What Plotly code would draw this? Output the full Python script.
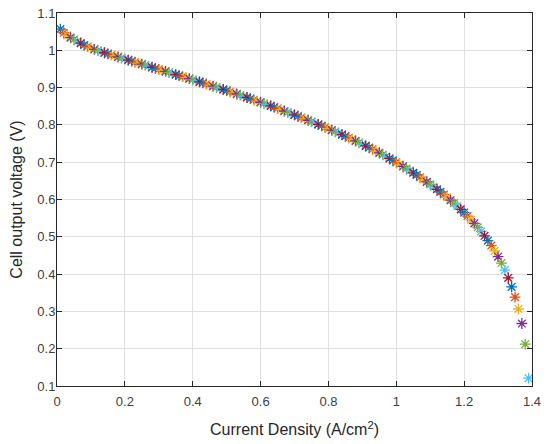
import plotly.graph_objects as go

# Current density (A/cm^2), one point per 0.01 step
current_density = [
    0.01, 0.02, 0.03, 0.04, 0.05, 0.06, 0.07, 0.08, 0.09, 0.10,
    0.11, 0.12, 0.13, 0.14, 0.15, 0.16, 0.17, 0.18, 0.19, 0.20,
    0.21, 0.22, 0.23, 0.24, 0.25, 0.26, 0.27, 0.28, 0.29, 0.30,
    0.31, 0.32, 0.33, 0.34, 0.35, 0.36, 0.37, 0.38, 0.39, 0.40,
    0.41, 0.42, 0.43, 0.44, 0.45, 0.46, 0.47, 0.48, 0.49, 0.50,
    0.51, 0.52, 0.53, 0.54, 0.55, 0.56, 0.57, 0.58, 0.59, 0.60,
    0.61, 0.62, 0.63, 0.64, 0.65, 0.66, 0.67, 0.68, 0.69, 0.70,
    0.71, 0.72, 0.73, 0.74, 0.75, 0.76, 0.77, 0.78, 0.79, 0.80,
    0.81, 0.82, 0.83, 0.84, 0.85, 0.86, 0.87, 0.88, 0.89, 0.90,
    0.91, 0.92, 0.93, 0.94, 0.95, 0.96, 0.97, 0.98, 0.99, 1.00,
    1.01, 1.02, 1.03, 1.04, 1.05, 1.06, 1.07, 1.08, 1.09, 1.10,
    1.11, 1.12, 1.13, 1.14, 1.15, 1.16, 1.17, 1.18, 1.19, 1.20,
    1.21, 1.22, 1.23, 1.24, 1.25, 1.26, 1.27, 1.28, 1.29, 1.30,
    1.31, 1.32, 1.33, 1.34, 1.35, 1.36, 1.37, 1.38, 1.39,
]

# Cell output voltage (V)
cell_voltage = [
    1.057, 1.047, 1.040, 1.034, 1.029, 1.024, 1.019, 1.014, 1.010, 1.006,
    1.0027, 0.9995, 0.9964, 0.9934, 0.9905, 0.9876, 0.9848, 0.9820, 0.9793, 0.9766,
    0.9738, 0.9711, 0.9683, 0.9656, 0.9628, 0.9600, 0.9573, 0.9545, 0.9517, 0.9490,
    0.9462, 0.9434, 0.9406, 0.9378, 0.9350, 0.9322, 0.9294, 0.9266, 0.9238, 0.9210,
    0.9182, 0.9154, 0.9125, 0.9096, 0.9067, 0.9038, 0.9009, 0.8979, 0.8949, 0.8919,
    0.8889, 0.8859, 0.8828, 0.8797, 0.8766, 0.8735, 0.8703, 0.8671, 0.8639, 0.8607,
    0.8574, 0.8541, 0.8508, 0.8474, 0.8440, 0.8406, 0.8372, 0.8337, 0.8302, 0.8267,
    0.8232, 0.8196, 0.8160, 0.8124, 0.8087, 0.8050, 0.8013, 0.7975, 0.7937, 0.7899,
    0.7860, 0.7820, 0.7780, 0.7739, 0.7698, 0.7656, 0.7614, 0.7571, 0.7527, 0.7483,
    0.7438, 0.7392, 0.7346, 0.7299, 0.7251, 0.7202, 0.7152, 0.7101, 0.7049, 0.6996,
    0.6942, 0.6887, 0.6831, 0.6774, 0.6716, 0.6657, 0.6597, 0.6535, 0.6472, 0.6408,
    0.6342, 0.6274, 0.6204, 0.6132, 0.6058, 0.5982, 0.5903, 0.5821, 0.5736, 0.5648,
    0.5556, 0.5460, 0.5360, 0.5255, 0.5144, 0.5027, 0.4897, 0.4765, 0.4622, 0.4466,
    0.4296, 0.4108, 0.3897, 0.3658, 0.3383, 0.3065, 0.2675, 0.2120, 0.1210,
]

x_ticks = [0, 0.2, 0.4, 0.6, 0.8, 1.0, 1.2, 1.4]
x_tick_labels = ["0", "0.2", "0.4", "0.6", "0.8", "1", "1.2", "1.4"]
y_ticks = [0.1, 0.2, 0.3, 0.4, 0.5, 0.6, 0.7, 0.8, 0.9, 1.0, 1.1]
y_tick_labels = ["0.1", "0.2", "0.3", "0.4", "0.5", "0.6", "0.7", "0.8", "0.9", "1", "1.1"]

# MATLAB default colour order, cycled point by point
color_order = ["#0072BD", "#D95319", "#EDB120", "#7E2F8E", "#77AC30", "#4DBEEE", "#A2142F"]
point_colors = [color_order[i % len(color_order)] for i in range(len(current_density))]

fig = go.Figure()
fig.add_trace(go.Scatter(
    x=current_density,
    y=cell_voltage,
    mode="markers",
    marker=dict(symbol="asterisk-open", size=9, color=point_colors,
                line=dict(width=1.3)),
    showlegend=False,
    hoverinfo="x+y",
))

axis_color = "#262626"
font_family = "Liberation Sans, Arial, Helvetica, sans-serif"

# the page body adds an 8 px offset, so the figure is sized to fit the window
fig.update_layout(
    width=542, height=436,
    margin=dict(l=49, r=18, t=5, b=58, autoexpand=False),
    paper_bgcolor="white",
    plot_bgcolor="white",
    font=dict(family=font_family, size=13, color=axis_color),
)

fig.update_xaxes(
    range=[0, 1.4],
    tickvals=x_ticks, ticktext=x_tick_labels,
    ticks="inside", ticklen=5, tickwidth=1, tickcolor=axis_color,
    showline=True, linecolor=axis_color, linewidth=1, mirror="ticks",
    showgrid=True, gridcolor="#e0e0e0", gridwidth=1,
    zeroline=False, automargin=False,
    tickfont=dict(size=13, color="#404040"),
    ticklabelstandoff=3, ticklabeloverflow="allow",
    title=dict(text="Current Density (A/cm<sup>2</sup>)", font=dict(size=16, color=axis_color), standoff=16),
)
fig.update_yaxes(
    range=[0.1, 1.1],
    tickvals=y_ticks, ticktext=y_tick_labels,
    ticks="inside", ticklen=5, tickwidth=1, tickcolor=axis_color,
    showline=True, linecolor=axis_color, linewidth=1, mirror="ticks",
    showgrid=True, gridcolor="#e0e0e0", gridwidth=1,
    zeroline=False, automargin=False,
    tickfont=dict(size=13, color="#404040"),
    ticklabelstandoff=-2, ticklabeloverflow="allow",
    title=dict(text="Cell output voltage (V)", font=dict(size=16, color=axis_color), standoff=13),
)

fig.write_html("out.html")
